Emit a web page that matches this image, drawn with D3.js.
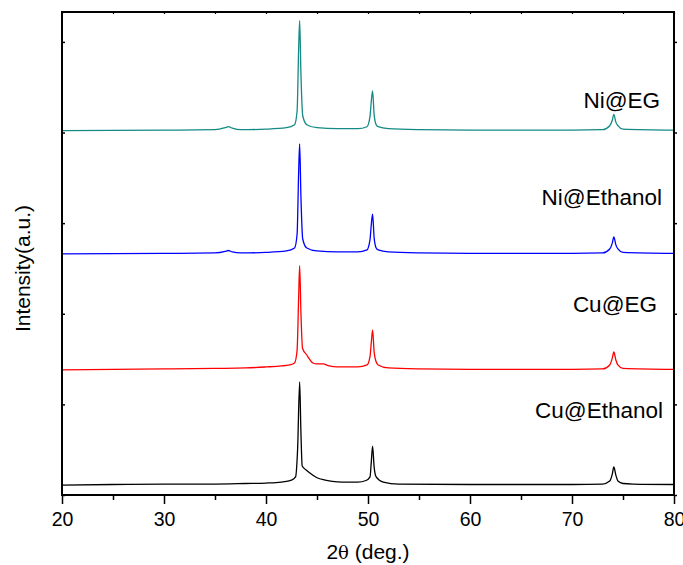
<!DOCTYPE html>
<html>
<head>
<meta charset="utf-8">
<script src="https://cdn.jsdelivr.net/npm/d3@7"></script>
<style>
  html, body { margin: 0; padding: 0; background: #fff; }
  svg { display: block; }
  text { font-family: "Liberation Sans", Arial, sans-serif; fill: #000; }
</style>
</head>
<body>
<svg id="chart" width="683" height="565"></svg>
<script>
// ---- data (2θ in degrees, intensity above each trace's own baseline, counts) ----
const seriesNames = ["Cu@Ethanol", "Cu@EG", "Ni@Ethanol", "Ni@EG"];
const seriesColors = ["#000000", "#ff0000", "#0000ff", "#138a84"];
const seriesOffsets = [110, 1380, 2660, 4020];

const cuEthanol = [
  [20, 0], [25, 6], [30, 11], [35, 11], [38, 17], [40, 22], [41.5, 33], [42.5, 55],
  [42.9, 90], [43.1, 400], [43.3, 1137], [43.42, 600], [43.55, 210], [44.0, 160],
  [44.3, 132], [45.0, 80], [45.8, 55], [46.5, 40], [47.5, 33], [49.0, 33], [49.8, 50],
  [50.2, 90], [50.32, 250], [50.45, 430], [50.6, 200], [50.8, 90], [51.5, 33],
  [53, 11], [60, 6], [70, 6], [73, 11], [73.7, 44], [73.95, 120], [74.1, 199],
  [74.3, 110], [74.5, 44], [75, 17], [76, 11], [80, 6]
];
const cuEG = [
  [20, 0], [25, 6], [30, 11], [35, 17], [38, 22], [40, 33], [41.5, 44], [42.3, 55],
  [42.8, 77], [43.05, 220], [43.2, 800], [43.3, 1150], [43.42, 650], [43.58, 240],
  [44.0, 165], [44.6, 77], [45.0, 66], [45.6, 66], [46.2, 44], [47, 33], [49, 33],
  [49.9, 55], [50.2, 150], [50.32, 300], [50.45, 440], [50.6, 200], [50.8, 90],
  [51, 55], [52, 22], [55, 11], [60, 6], [70, 6], [73, 11], [73.7, 55], [73.95, 130],
  [74.1, 199], [74.3, 110], [74.5, 55], [75, 17], [80, 6]
];
const niEthanol = [
  [20, 0], [30, 6], [35, 11], [36.0, 28], [36.3, 38], [36.7, 22], [37.5, 11], [40, 17],
  [42, 33], [42.8, 66], [43.05, 220], [43.2, 900], [43.3, 1215], [43.42, 650],
  [43.6, 165], [44.0, 66], [45, 33], [47, 22], [49, 22], [49.9, 44], [50.2, 160],
  [50.32, 320], [50.45, 440], [50.6, 180], [50.8, 66], [51, 44], [52, 22], [55, 11],
  [60, 6], [70, 6], [73, 11], [73.7, 55], [73.95, 120], [74.1, 188], [74.3, 100],
  [74.5, 55], [75, 17], [80, 6]
];
const niEG = [
  [20, 0], [30, 6], [35, 11], [36.0, 33], [36.3, 44], [36.7, 28], [37.5, 11], [40, 17],
  [42, 33], [42.8, 66], [43.05, 220], [43.2, 900], [43.3, 1215], [43.42, 650],
  [43.6, 165], [44.0, 66], [45, 33], [47, 22], [49, 22], [49.9, 44], [50.2, 160],
  [50.32, 320], [50.45, 440], [50.6, 180], [50.8, 66], [51, 44], [52, 22], [55, 11],
  [60, 6], [70, 6], [73, 11], [73.7, 55], [73.95, 115], [74.1, 180], [74.3, 95],
  [74.5, 55], [75, 17], [80, 6]
];
const seriesData = [cuEthanol, cuEG, niEthanol, niEG];

const xTicks = [20, 30, 40, 50, 60, 70, 80];
const xMinorTicks = [25, 35, 45, 55, 65, 75];
const yTicks = [0, 1000, 2000, 3000, 4000, 5000];

// ---- layout ----
const svg = d3.select("#chart");
const mLeft = 62, mRight = 674, mTop = 12, mBottom = 495;
const x = d3.scaleLinear().domain([20, 80]).range([mLeft, mRight]);
const y = d3.scaleLinear().domain([0, 5330]).range([mBottom, mTop]);

// traces
const line = d3.line()
  .x(d => x(d[0]))
  .y(d => y(d[1]))
  .curve(d3.curveMonotoneX);

seriesData.forEach((data, i) => {
  const off = seriesOffsets[i];
  svg.append("path")
    .attr("fill", "none")
    .attr("stroke", seriesColors[i])
    .attr("stroke-width", 1.3)
    .attr("stroke-linejoin", "round")
    .attr("d", line(data.map(d => [d[0], d[1] + off])));
});

// bottom axis
const gx = svg.append("g").attr("transform", `translate(0,${mBottom})`)
  .call(d3.axisBottom(x).tickValues(xTicks).tickSize(9).tickPadding(8).tickFormat(d3.format("d")));
gx.select(".domain").remove();
gx.selectAll(".tick line").attr("stroke", "#000").attr("stroke-width", 1.5);
gx.selectAll(".tick text").style("font-size", "19.5px").style("font-family", "'Liberation Sans', Arial, sans-serif");
const gxm = svg.append("g").attr("transform", `translate(0,${mBottom})`)
  .call(d3.axisBottom(x).tickValues(xMinorTicks).tickSize(5).tickFormat(""));
gxm.select(".domain").remove();
gxm.selectAll(".tick line").attr("stroke", "#000").attr("stroke-width", 1.5);

// top axis small ticks
const gt = svg.append("g").attr("transform", `translate(0,${mTop})`)
  .call(d3.axisBottom(x).tickValues(xTicks.concat(xMinorTicks)).tickSize(2).tickFormat(""));
gt.select(".domain").remove();
gt.selectAll(".tick line").attr("stroke", "#000").attr("stroke-width", 1.2);

// left axis (inner ticks, no labels)
const gy = svg.append("g").attr("transform", `translate(${mLeft},0)`)
  .call(d3.axisRight(y).tickValues(yTicks).tickSize(3).tickFormat(""));
gy.select(".domain").remove();
gy.selectAll(".tick line").attr("stroke", "#000").attr("stroke-width", 1.5);
// right axis ticks
const gyr = svg.append("g").attr("transform", `translate(${mRight},0)`)
  .call(d3.axisRight(y).tickValues(yTicks).tickSize(3).tickFormat(""));
gyr.select(".domain").remove();
gyr.selectAll(".tick line").attr("stroke", "#000").attr("stroke-width", 1.5);

// frame
svg.append("rect")
  .attr("x", mLeft).attr("y", mTop)
  .attr("width", mRight - mLeft).attr("height", mBottom - mTop)
  .attr("fill", "none").attr("stroke", "#000").attr("stroke-width", 2);

// series labels
const labelPos = [[663, 418], [657, 312], [662, 205], [660, 108]];
seriesNames.forEach((name, i) => {
  svg.append("text")
    .attr("x", labelPos[i][0]).attr("y", labelPos[i][1])
    .attr("text-anchor", "end")
    .style("font-size", "22.5px")
    .text(name);
});

// axis titles
const xt = svg.append("text")
  .attr("x", (mLeft + mRight) / 2).attr("y", 559)
  .attr("text-anchor", "middle")
  .style("font-size", "21px");
xt.append("tspan").text("2");
xt.append("tspan").style("font-family", "'DejaVu Serif', 'Liberation Serif', serif").style("font-size", "18px").text("θ");
xt.append("tspan").text(" (deg.)");

svg.append("text")
  .attr("transform", `translate(30,${(mTop + mBottom) / 2 + 15}) rotate(-90)`)
  .attr("text-anchor", "middle")
  .style("font-size", "21px")
  .text("Intensity(a.u.)");
</script>
</body>
</html>
